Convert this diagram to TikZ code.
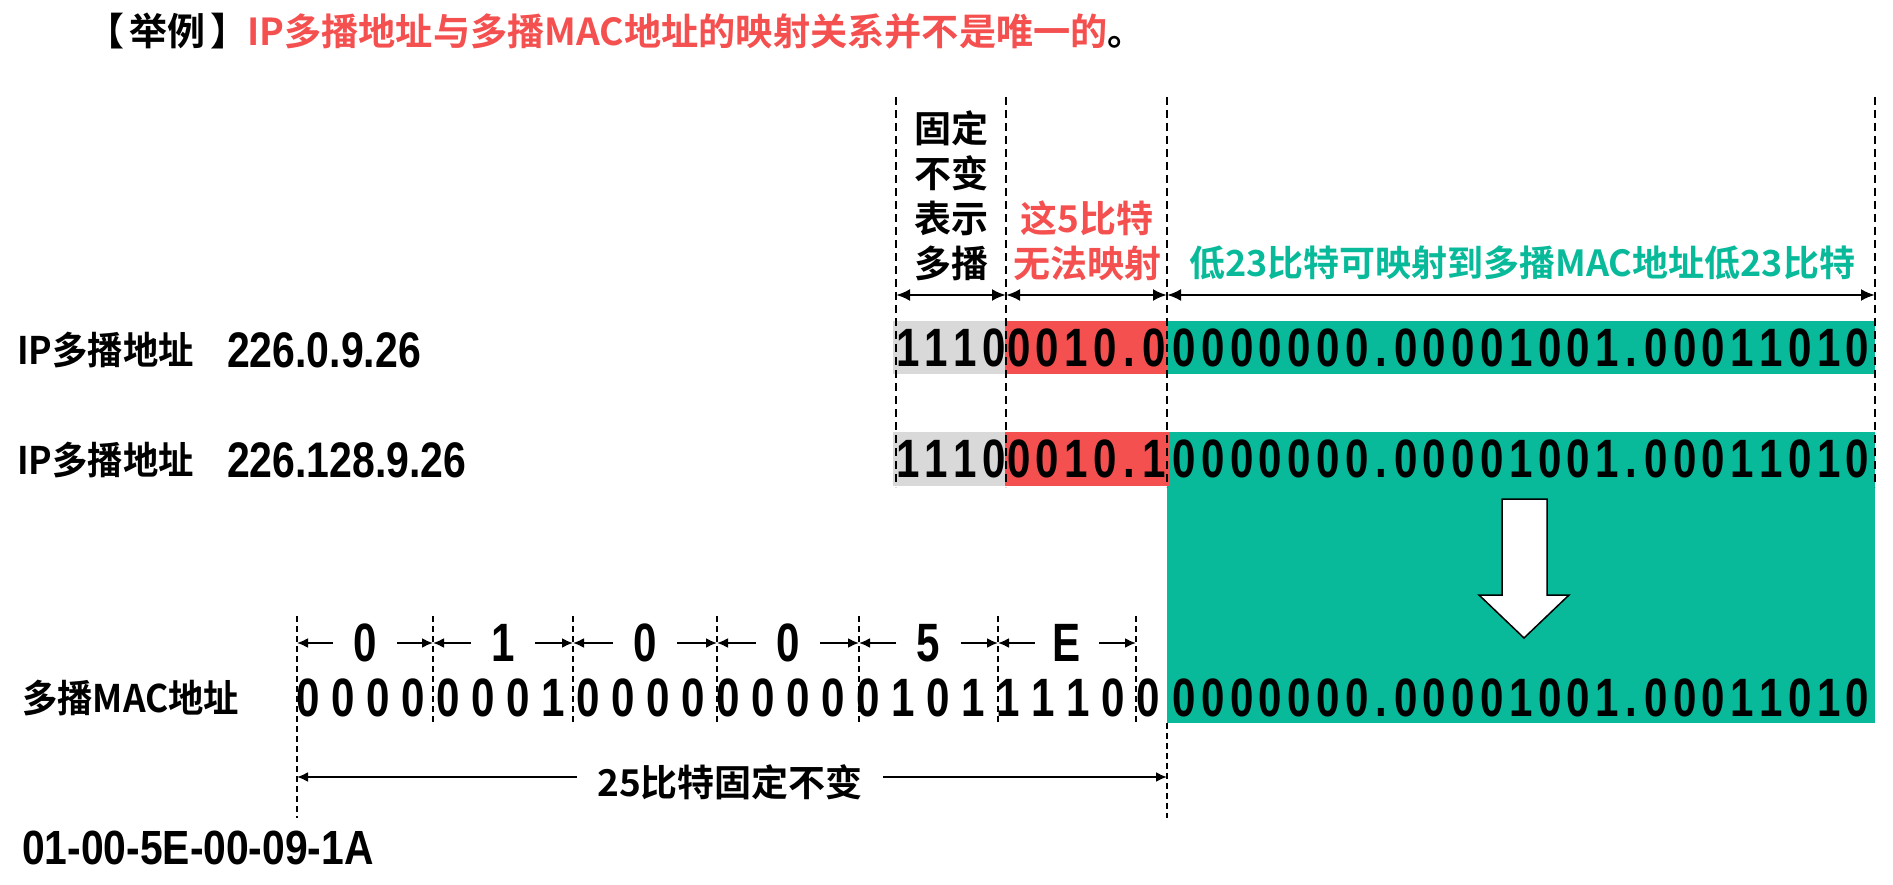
\documentclass[tikz,border=0pt]{standalone}
\usepackage{fontspec}
\usepackage{graphicx}
\setmainfont{Noto Sans CJK SC Bold}
\newfontfamily\cjkn{Noto Sans CJK SC Bold}[FakeStretch=0.93]
\newfontfamily\dig{Liberation Sans Bold}[FakeStretch=0.78]
\newfontfamily\narrowf{Liberation Sans Bold}[FakeStretch=0.82]
\newfontfamily\narrowg{Liberation Sans Bold}[FakeStretch=0.85]
\usetikzlibrary{arrows.meta}
\definecolor{myred}{HTML}{F55050}
\definecolor{myteal}{HTML}{08BA9A}
\definecolor{mygrey}{HTML}{D9D9D9}
\newcommand{\bitstr}[1]{\bitstri#1\relax}
\def\bitstri#1{\ifx#1\relax\else\ifx#1.\makebox[20pt]{.}\else\makebox[28.8pt]{#1}\fi\expandafter\bitstri\fi}
\tikzset{
  txt/.style={inner sep=0pt, font=\fontsize{38}{40}\selectfont},
  ntxt/.style={inner sep=0pt, font=\cjkn\fontsize{38}{40}\selectfont},
  digit/.style={inner sep=0pt, font=\dig\fontsize{54}{56}\selectfont},
  box/.style={inner sep=0pt, font=\dig\fontsize{54}{56}\selectfont},
  vdash/.style={line width=2.5pt, dash pattern=on 8pt off 5pt},
  thindash/.style={line width=1.6pt, dash pattern=on 6pt off 4pt},
  dim/.style={line width=2.5pt, {Latex[length=14pt,width=12pt]}-{Latex[length=14pt,width=12pt]}},
  sarrow/.style={line width=2pt, -{Latex[length=11pt,width=10pt]}},
}
\begin{document}
\begin{tikzpicture}[x=1pt,y=-1pt]
\useasboundingbox (0,0) rectangle (1893,885);
% title
\node[txt, anchor=west] (ex) at (86,31) {【\hspace{5pt}举例\hspace{5pt}】};
\node[txt, anchor=west, text=myred, font=\fontsize{37.2}{40}\selectfont] (title) at (247,31) {IP多播地址与多播MAC地址的映射关系并不是唯一的\textcolor{black}{。}};
% header texts
\node[txt, align=center, font=\fontsize{37}{45}\selectfont] (fix) at (951,195.5) {固定\\不变\\表示\\多播};
\node[txt, align=center, text=myred, font=\fontsize{37}{45}\selectfont] (no5) at (1087,240.5) {这5比特\\无法映射};
\node[txt, text=myteal, font=\fontsize{36}{40}\selectfont] (low23) at (1522,263) {低23比特可映射到多播MAC地址低23比特};
% boxes row 1
\node[box, fill=mygrey, minimum width=110pt, minimum height=53pt] (g1) at (951,347.5) {\bitstr{1110}};
\node[box, fill=myred, minimum width=161pt, minimum height=53pt] (r1) at (1086.5,347.5) {\bitstr{0010.0}};
\node[box, fill=myteal, minimum width=708pt, minimum height=53pt] (t1) at (1521,347.5) {\bitstr{0000000.00001001.00011010}};
% boxes row 2
\fill[myteal] (1167,432) rectangle (1875,723);
\node[box, fill=mygrey, minimum width=110pt, minimum height=54pt] (g2) at (951,459) {\bitstr{1110}};
\node[box, fill=myred, minimum width=161pt, minimum height=54pt] (r2) at (1086.5,459) {\bitstr{0010.1}};
\node[digit] (t2) at (1521,459) {\bitstr{0000000.00001001.00011010}};
% vertical dashed lines
\draw[vdash] (896,97) -- (896,487);
\draw[vdash] (1006,97) -- (1006,487);
\draw[vdash] (1167,97) -- (1167,487);
\draw[vdash] (1875,97) -- (1875,487);
% top dimension arrows
\coordinate (d0) at (896,295);
\coordinate (d1) at (1006,295);
\coordinate (d2) at (1167,295);
\coordinate (d3) at (1875,295);
\draw[dim] (d0) -- (d1);
\draw[dim] (d1) -- (d2);
\draw[dim] (d2) -- (d3);
% left labels
\node[ntxt, anchor=west] (ip1) at (17,350) {IP多播地址};
\node[inner sep=0pt, anchor=west, font=\narrowf\fontsize{50}{52}\selectfont] (a1) at (227,350) {226.0.9.26};
\node[ntxt, anchor=west] (ip2) at (17,460) {IP多播地址};
\node[inner sep=0pt, anchor=west, font=\narrowf\fontsize{50}{52}\selectfont] (a2) at (227,460) {226.128.9.26};
% down arrow
\draw[fill=white, line width=1.5pt] (1502,499) -- (1547,499) -- (1547,595) -- (1569,595) -- (1524,638) -- (1479,595) -- (1502,595) -- cycle;
% MAC row
\node[ntxt, anchor=west] (macl) at (22,698) {多播MAC地址};
\foreach \b [count=\i from 0] in {0,0,0,0,0,0,0,1,0,0,0,0,0,0,0,0,0,1,0,1,1,1,1,0,0}
  \node[digit] (m\i) at ({308+35*\i},698) {\b};
\node[digit] (t3) at (1521,698) {\bitstr{0000000.00001001.00011010}};
\foreach \x in {433,573,717,859,998,1136}
  \draw[thindash] (\x,616) -- (\x,725);
\draw[thindash] (297,616) -- (297,818);
\draw[thindash] (1167,723) -- (1167,818);
\foreach \l/\r/\t [count=\k] in {297/433/0, 433/573/1, 573/717/0, 717/859/0, 859/998/5, 998/1136/E} {
  \node[digit, minimum width=64pt] (h\k) at ({(\l+\r)/2},643) {\t};
  \coordinate (hl\k) at (\l,643);
  \coordinate (hr\k) at (\r,643);
  \draw[sarrow] (h\k.west) -- (hl\k);
  \draw[sarrow] (h\k.east) -- (hr\k);
}
% 25 bits
\node[txt, inner xsep=20pt, font=\fontsize{37}{40}\selectfont] (fix25) at (730,782) {25比特固定不变};
\coordinate (fl) at (297,777);
\coordinate (fr) at (1167,777);
\draw[sarrow] (fix25.west |- fl) -- (fl);
\draw[sarrow] (fix25.east |- fr) -- (fr);
% MAC string
\node[inner sep=0pt, anchor=west, font=\narrowg\fontsize{48}{50}\selectfont] (macstr) at (22,848) {01-00-5E-00-09-1A};
\end{tikzpicture}
\end{document}
